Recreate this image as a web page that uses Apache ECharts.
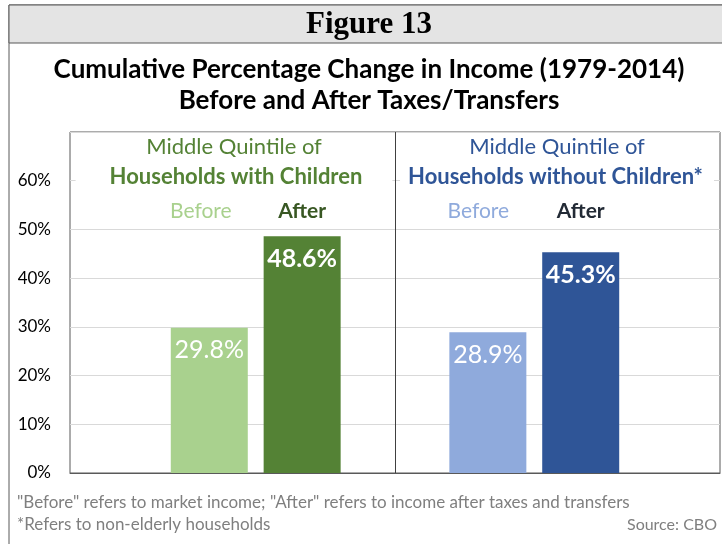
<!DOCTYPE html>
<html>
<head>
<meta charset="utf-8">
<script src="https://cdn.jsdelivr.net/npm/echarts@6/dist/echarts.min.js"></script>
<style>
  html, body { margin: 0; padding: 0; background: #fff; }
  #chart { width: 722px; height: 544px; }
</style>
</head>
<body>
<div id="chart"></div>
<script>
// slots: empty, with children (before/after), empty, without children (before/after), empty
var categories = ['', 'Before', 'After', '', 'Before', 'After', ''];
var withChildren = [29.8, 48.6];
var withoutChildren = [28.9, 45.3];
var yTicks = [0, 10, 20, 30, 40, 50, 60];

var barColors = ['#a9d18e', '#548235', '#8faadc', '#2f5597'];
var catColors = ['', '#a9d18e', '#385723', '', '#8faadc', '#222a35', ''];

var values = [null, withChildren[0], withChildren[1], null, withoutChildren[0], withoutChildren[1], null];
var colorIdx = [null, 0, 1, null, 2, 3, null];

var barData = values.map(function (v, i) {
    if (v === null) return null;
    var isAfter = categories[i] === 'After';
    return {
        value: v,
        itemStyle: { color: barColors[colorIdx[i]] },
        label: { fontWeight: isAfter ? 'bold' : 'normal' }
    };
});

var font = 'Lato, "Open Sans", sans-serif';

var chart = echarts.init(document.getElementById('chart'));
chart.setOption({
    animation: false,
    grid: {
        left: 70, right: 2, top: 132, bottom: 71,
        show: true, borderColor: '#595959', borderWidth: 1
    },
    xAxis: [{
        type: 'category',
        data: categories,
        axisLine: { lineStyle: { color: '#595959' } },
        axisTick: { show: false },
        axisLabel: { show: false }
    }, {
        type: 'category',
        data: categories,
        position: 'top',
        axisLine: { show: false },
        axisTick: { show: false },
        axisLabel: {
            inside: true,
            interval: 0,
            margin: 69,
            fontFamily: font,
            fontSize: 21,
            formatter: function (v, i) {
                if (!v) return '';
                return v === 'After' ? '{a' + i + '|' + v + '}' : '{b' + i + '|' + v + '}';
            },
            rich: {
                b1: { color: catColors[1], fontSize: 21, fontFamily: font, padding: [0, 17, 0, 0] },
                a2: { color: catColors[2], fontSize: 21, fontFamily: font, fontWeight: 'bold' },
                b4: { color: catColors[4], fontSize: 21, fontFamily: font, padding: [0, 19, 0, 0] },
                a5: { color: catColors[5], fontSize: 21, fontFamily: font, fontWeight: 'bold' }
            }
        }
    }],
    yAxis: {
        type: 'value',
        min: 0, max: 70, interval: 10,
        axisLine: { show: false },
        axisTick: { show: false },
        splitLine: { lineStyle: { color: '#d9d9d9' } },
        axisLabel: {
            margin: 19,
            fontFamily: font,
            fontSize: 17,
            color: '#000',
            formatter: function (v) { return yTicks.indexOf(v) >= 0 ? v + '%' : ''; }
        }
    },
    series: [{
        type: 'bar',
        data: barData,
        barWidth: 77,
        label: {
            show: true,
            position: 'insideTop',
            distance: 10,
            color: '#fff',
            fontFamily: font,
            fontSize: 25,
            formatter: function (p) { return p.value.toFixed(1) + '%'; }
        },
        markLine: {
            silent: true,
            symbol: 'none',
            label: { show: false },
            z: 20,
            lineStyle: { color: '#404040', type: 'solid', width: 1 },
            data: [{ xAxis: 3 }]
        }
    }],
    graphic: [
        { type: 'rect', shape: { x: 9, y: 5, width: 730, height: 560 },
          style: { fill: 'none', stroke: '#595959', lineWidth: 1 }, z: -10 },
        { type: 'rect', shape: { x: 9, y: 5, width: 730, height: 38 },
          style: { fill: '#e4e4e4', stroke: '#595959', lineWidth: 1 }, z: -9 },
        { type: 'text', x: 369, y: 25, style: { text: 'Figure 13', textAlign: 'center', textVerticalAlign: 'middle',
          font: 'bold 31px "Liberation Serif", serif', fill: '#000' } },
        { type: 'text', x: 369, y: 70, style: { text: 'Cumulative Percentage Change in Income (1979-2014)', textAlign: 'center',
          textVerticalAlign: 'middle', font: 'bold 26px ' + font, fill: '#000' } },
        { type: 'text', x: 369, y: 101, style: { text: 'Before and After Taxes/Transfers', textAlign: 'center',
          textVerticalAlign: 'middle', font: 'bold 26px ' + font, fill: '#000' } },
        { type: 'text', x: 234, y: 147, style: { text: 'Middle Quintile of', textAlign: 'center',
          textVerticalAlign: 'middle', font: '22px ' + font, fill: '#548235' } },
        { type: 'text', x: 234, y: 177, z: 10, style: { text: 'Households with Children', textAlign: 'center',
          textVerticalAlign: 'middle', font: 'bold 22px ' + font, fill: '#548235',
          backgroundColor: '#fff', padding: [3, 30, 3, 34] } },
        { type: 'text', x: 557, y: 177, style: { text: 'Middle Quintile of', textAlign: 'center',
          textVerticalAlign: 'middle', font: '22px ' + font, fill: '#2f5597' }, y: 147 },
        { type: 'text', x: 557, y: 177, z: 10, style: { text: 'Households without Children*', textAlign: 'center',
          textVerticalAlign: 'middle', font: 'bold 22px ' + font, fill: '#2f5597',
          backgroundColor: '#fff', padding: [3, 11, 3, 8] } },
        { type: 'text', x: 17, y: 503, style: { text: '"Before" refers to market income; "After" refers to income after taxes and transfers',
          textVerticalAlign: 'middle', font: '17px ' + font, fill: '#7f7f7f' } },
        { type: 'text', x: 17, y: 525, style: { text: '*Refers to non-elderly households',
          textVerticalAlign: 'middle', font: '17px ' + font, fill: '#7f7f7f' } },
        { type: 'text', x: 717, y: 525, style: { text: 'Source: CBO', textAlign: 'right',
          textVerticalAlign: 'middle', font: '16px ' + font, fill: '#7f7f7f' } }
    ]
});
</script>
</body>
</html>
